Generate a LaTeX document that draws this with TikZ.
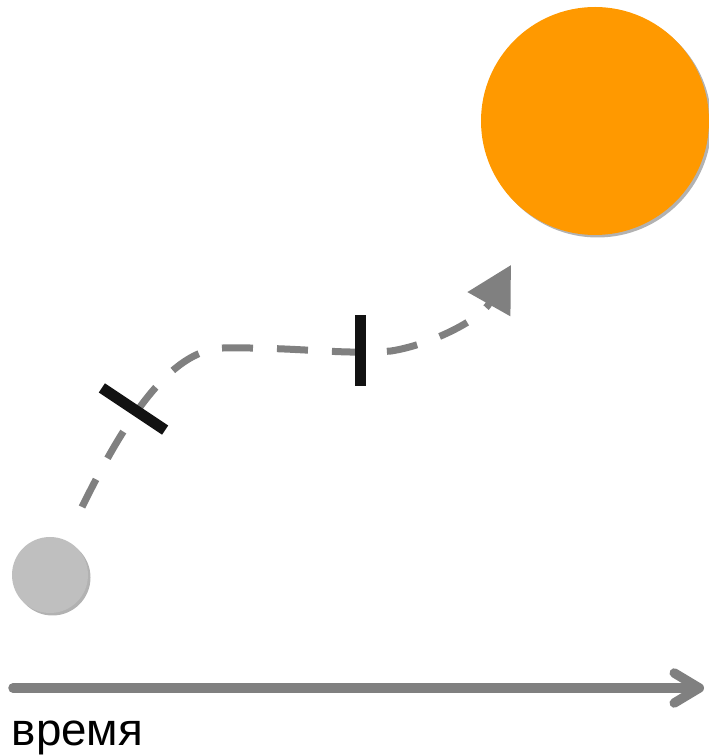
\documentclass[tikz,border=0pt]{standalone}
\usepackage{fontspec}
\setmainfont{Liberation Sans}
\usetikzlibrary{arrows.meta,shadows}
\definecolor{sunorange}{RGB}{255,153,0}
\definecolor{ballgray}{RGB}{191,191,191}
\definecolor{pathgray}{RGB}{128,128,128}

\begin{document}
\begin{tikzpicture}[line width=1pt,
  disc/.style={circle,inner sep=0pt,draw=none,
    drop shadow={shadow xshift=0.05cm,shadow yshift=-0.05cm,opacity=0.3,fill=black}},
  dashpath/.style={pathgray,line width=0.14cm,dash pattern=on 0.62cm off 0.48cm},
  tickbar/.style={rectangle,fill=black!93,inner sep=0pt,minimum height=0.22cm}]
  \useasboundingbox (0,0) rectangle (14.18,15.12);
  % ============ ТЕЛА ============
  \node[disc,fill=ballgray,minimum size=1.52cm] (ball) at (1.0,3.62){};
  \node[disc,fill=sunorange,minimum size=4.56cm] (sun) at (11.9,12.7){};
  % ============ ТРАЕКТОРИЯ ============
  \coordinate (start) at (1.64,4.98);
  \coordinate (bendA) at (4.46,8.16);
  \coordinate (bendB) at (7.82,8.10);
  \coordinate (tip) at (10.22,9.82);
  \draw[dashpath,-{Triangle[length=0.9cm,width=0.95cm]}] (start)
    .. controls (2.5,6.72) and (3.4,8.12) .. (bendA)
    .. controls (6.0,8.18) and (6.8,8.02) .. (bendB)
    .. controls (8.6,8.22) and (9.6,8.72) .. (tip);
  % ---------- отметки ----------
  \node[tickbar,minimum width=1.52cm,rotate=-33.7] (markA) at (2.67,6.94){};
  \node[tickbar,minimum width=1.42cm,rotate=90] (markB) at (7.2,8.11){};
  % ============ ОСЬ ВРЕМЕНИ ============
  \coordinate (t0) at (0.26,1.36);
  \coordinate (t1) at (14.08,1.36);
  \draw[pathgray,line width=0.19cm,line cap=round,
    -{Straight Barb[length=0.5cm,width=0.6cm,round]}] (t0) -- (t1);
  \node[anchor=base west,inner sep=0pt,font=\fontsize{26}{30}\selectfont] (label) at (0.22,0.22){время};
\end{tikzpicture}
\end{document}
